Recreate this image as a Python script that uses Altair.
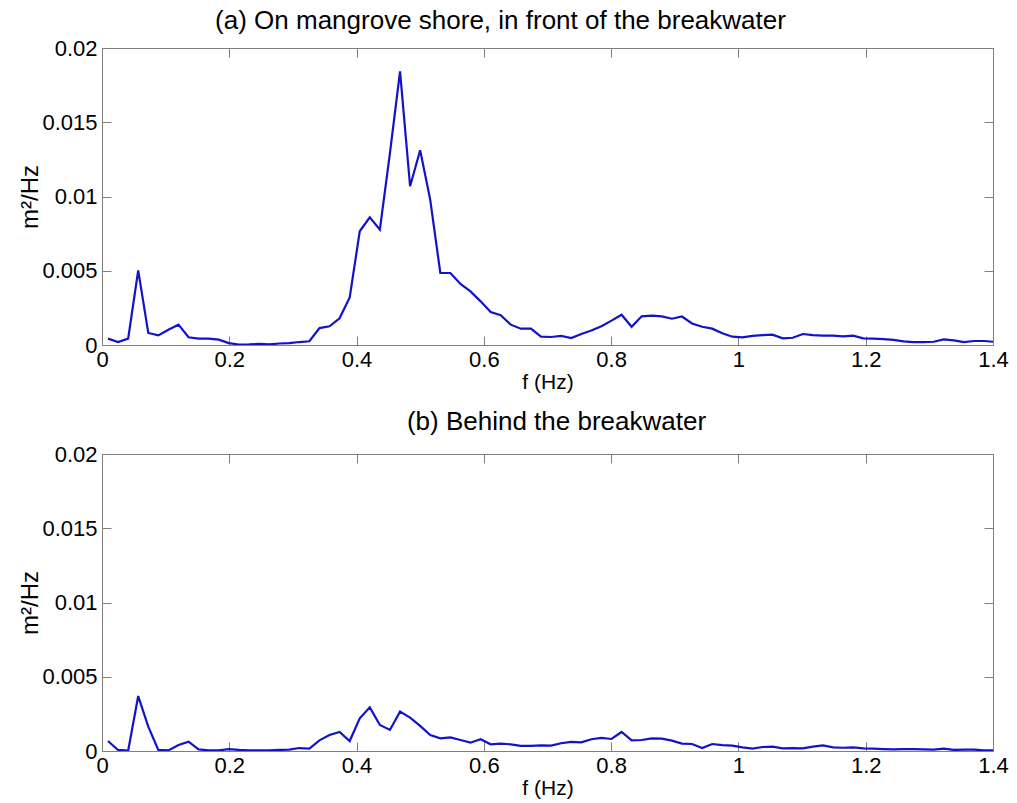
import altair as alt
import pandas as pd

# ---- data ----
freq = [0.0094, 0.0252, 0.0411, 0.0569, 0.0727, 0.0885, 0.1043, 0.1202, 0.1360, 0.1518,
        0.1676, 0.1835, 0.1993, 0.2151, 0.2309, 0.2468, 0.2626, 0.2784, 0.2942, 0.3100,
        0.3259, 0.3417, 0.3575, 0.3733, 0.3892, 0.4050, 0.4208, 0.4366, 0.4524, 0.4683,
        0.4841, 0.4999, 0.5157, 0.5316, 0.5474, 0.5632, 0.5790, 0.5949, 0.6107, 0.6265,
        0.6423, 0.6581, 0.6740, 0.6898, 0.7056, 0.7214, 0.7373, 0.7531, 0.7689, 0.7847,
        0.8006, 0.8164, 0.8322, 0.8480, 0.8638, 0.8797, 0.8955, 0.9113, 0.9271, 0.9430,
        0.9588, 0.9746, 0.9904, 1.0062, 1.0221, 1.0379, 1.0537, 1.0695, 1.0854, 1.1012,
        1.1170, 1.1328, 1.1487, 1.1645, 1.1803, 1.1961, 1.2119, 1.2278, 1.2436, 1.2594,
        1.2752, 1.2911, 1.3069, 1.3227, 1.3385, 1.3543, 1.3702, 1.3860, 1.4000]

psd_front = [0.00043, 0.00020, 0.00043, 0.00503, 0.00081, 0.00065, 0.00103, 0.00137, 0.00052, 0.00043,
             0.00043, 0.00036, 0.00013, 0.00003, 0.00004, 0.00007, 0.00004, 0.00010, 0.00013, 0.00020,
             0.00025, 0.00114, 0.00126, 0.00180, 0.00320, 0.00766, 0.00860, 0.00777, 0.01290, 0.01843,
             0.01069, 0.01311, 0.00979, 0.00485, 0.00485, 0.00411, 0.00361, 0.00294, 0.00222, 0.00200,
             0.00137, 0.00110, 0.00110, 0.00056, 0.00054, 0.00061, 0.00047, 0.00074, 0.00097, 0.00126,
             0.00164, 0.00204, 0.00123, 0.00193, 0.00198, 0.00193, 0.00177, 0.00192, 0.00145, 0.00123,
             0.00110, 0.00079, 0.00056, 0.00052, 0.00061, 0.00067, 0.00070, 0.00045, 0.00049, 0.00074,
             0.00067, 0.00063, 0.00063, 0.00058, 0.00063, 0.00045, 0.00043, 0.00040, 0.00034, 0.00025,
             0.00020, 0.00020, 0.00022, 0.00038, 0.00031, 0.00020, 0.00027, 0.00027, 0.00022]

psd_behind = [0.00067, 0.00007, 0.00002, 0.00370, 0.00164, 0.00007, 0.00004, 0.00040, 0.00063, 0.00011,
              0.00004, 0.00004, 0.00013, 0.00007, 0.00004, 0.00004, 0.00004, 0.00007, 0.00009, 0.00020,
              0.00016, 0.00072, 0.00108, 0.00128, 0.00067, 0.00220, 0.00294, 0.00175, 0.00142, 0.00265,
              0.00225, 0.00169, 0.00108, 0.00085, 0.00092, 0.00074, 0.00056, 0.00079, 0.00045, 0.00049,
              0.00045, 0.00034, 0.00034, 0.00038, 0.00036, 0.00052, 0.00061, 0.00058, 0.00079, 0.00088,
              0.00081, 0.00128, 0.00072, 0.00074, 0.00085, 0.00083, 0.00070, 0.00050, 0.00047, 0.00020,
              0.00047, 0.00040, 0.00036, 0.00025, 0.00016, 0.00027, 0.00029, 0.00018, 0.00020, 0.00018,
              0.00029, 0.00038, 0.00025, 0.00022, 0.00025, 0.00018, 0.00016, 0.00013, 0.00011, 0.00013,
              0.00013, 0.00011, 0.00009, 0.00016, 0.00007, 0.00009, 0.00009, 0.00004, 0.00004]

x_ticks = [0, 0.2, 0.4, 0.6, 0.8, 1.0, 1.2, 1.4]
y_ticks = [0, 0.005, 0.01, 0.015, 0.02]
titles = ["(a) On mangrove shore, in front of the breakwater", "(b) Behind the breakwater"]

# ---- style ----
W, H = 891, 297
BOX = "#7f7f7f"
LINE = "#1212cc"
FONT = "Liberation Sans"
TICK_FS = 22


def panel(values, title, dx, offset):
    df = pd.DataFrame({"f": freq, "S": values})
    xs = alt.Scale(domain=[0, 1.4], nice=False, zero=False)
    ys = alt.Scale(domain=[0, 0.02], nice=False, zero=False)
    base = alt.Chart(df)
    main = base.mark_line(color=LINE, strokeWidth=2.2, clip=True).encode(
        x=alt.X("f:Q", scale=xs, axis=alt.Axis(
            values=x_ticks, format="~g", title="f (Hz)", ticks=False, domain=False,
            grid=False, labelFlush=False, labelOverlap=False, labelPadding=4,
            titlePadding=1, titleFontSize=21)),
        y=alt.Y("S:Q", scale=ys, axis=alt.Axis(
            values=y_ticks, format="~g", title="m²/Hz", ticks=False, domain=False,
            grid=False, labelFlush=False, labelOverlap=False, labelPadding=5,
            titlePadding=-1, titleFontSize=24)),
    )
    # inward ticks on bottom and left edges
    ticks_a = base.mark_line(opacity=0).encode(
        x=alt.X("f:Q", scale=xs, axis=alt.Axis(
            orient="top", offset=-H, values=x_ticks, labels=False, title="", ticks=True,
            tickSize=9, tickColor=BOX, domain=False, grid=False)),
        y=alt.Y("S:Q", scale=ys, axis=alt.Axis(
            orient="right", offset=-W, values=y_ticks, labels=False, title="", ticks=True,
            tickSize=9, tickColor=BOX, domain=False, grid=False)),
    )
    # inward ticks on top and right edges
    ticks_b = base.mark_line(opacity=0).encode(
        x=alt.X("f:Q", scale=xs, axis=alt.Axis(
            orient="bottom", offset=-H, values=x_ticks, labels=False, title="", ticks=True,
            tickSize=9, tickColor=BOX, domain=False, grid=False)),
        y=alt.Y("S:Q", scale=ys, axis=alt.Axis(
            orient="left", offset=-W, values=y_ticks, labels=False, title="", ticks=True,
            tickSize=9, tickColor=BOX, domain=False, grid=False)),
    )
    return alt.layer(main, ticks_a, ticks_b).resolve_scale(
        x="independent", y="independent"
    ).resolve_axis(x="independent", y="independent").properties(
        width=W, height=H,
        title=alt.TitleParams(title, anchor="middle", frame="group", dx=dx, offset=offset),
    )


chart = alt.vconcat(
    panel(psd_front, titles[0], -47, 3),
    panel(psd_behind, titles[1], 9, 8),
    spacing=109, bounds="flush",
).properties(
    padding={"left": 18, "top": 7, "right": 0, "bottom": 0},
    background="white",
).configure_view(
    stroke=BOX, strokeWidth=1
).configure_axis(
    labelFont=FONT, labelFontSize=TICK_FS, labelColor="black",
    titleFont=FONT, titleColor="black", titleFontWeight="normal",
).configure_title(
    font=FONT, fontSize=26, fontWeight="normal", color="black",
)

chart.save("out.html", embed_options={"renderer": "svg", "actions": False})
